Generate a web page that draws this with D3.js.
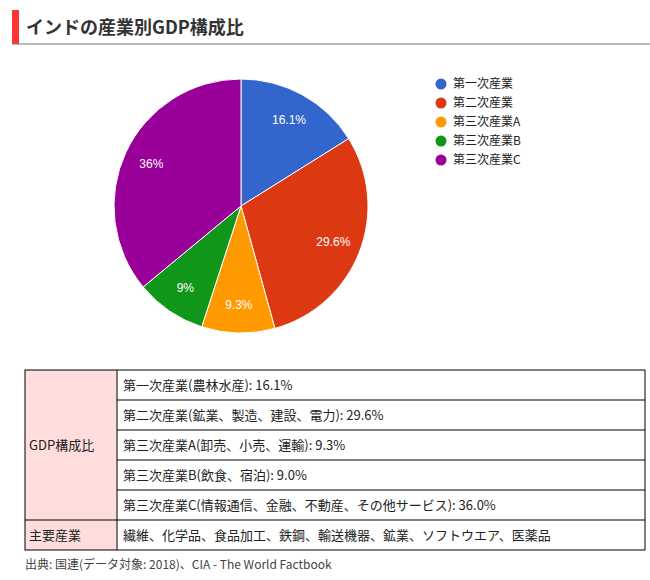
<!DOCTYPE html>
<html><head><meta charset="utf-8">
<script src="https://cdn.jsdelivr.net/npm/d3@7"></script>
<style>
body{margin:0;background:#fff;font-family:"Noto Sans CJK JP","Noto Sans",sans-serif;}
</style></head>
<body><div id="chart"></div>
<script>
// data
let sectors = ["第一次産業", "第二次産業", "第三次産業A", "第三次産業B", "第三次産業C"];
let shares = [16.1, 29.6, 9.3, 9.0, 36.0];
let sliceLabels = ["16.1%", "29.6%", "9.3%", "9%", "36%"];
let colors = ["#3366cc", "#dc3912", "#ff9900", "#109618", "#990099"];
let tableRows = [
	"第一次産業(農林水産): 16.1%",
	"第二次産業(鉱業、製造、建設、電力): 29.6%",
	"第三次産業A(卸売、小売、運輸): 9.3%",
	"第三次産業B(飲食、宿泊): 9.0%",
	"第三次産業C(情報通信、金融、不動産、その他サービス): 36.0%"
];
let mainIndustries = "繊維、化学品、食品加工、鉄鋼、輸送機器、鉱業、ソフトウエア、医薬品";
let source = "出典: 国連(データ対象: 2018)、CIA - The World Factbook";

let svg = d3.select("#chart").append("svg").attr("width", 650).attr("height", 580);

// title
svg.append("rect").attr("x", 12).attr("y", 10).attr("width", 7).attr("height", 34).attr("fill", "#f33");
svg.append("line").attr("x1", 12).attr("x2", 650).attr("y1", 44).attr("y2", 44).attr("stroke", "#777").attr("stroke-width", 1);
svg.append("text").attr("x", 26).attr("y", 34).attr("font-size", 18).attr("font-weight", "bold")
	.attr("fill", "#333").text("インドの産業別GDP構成比");

// pie
let R = 127;
let g = svg.append("g").attr("transform", "translate(241,206)");
let pie = d3.pie().sort(null)(shares);
let arc = d3.arc().innerRadius(0).outerRadius(R);
let labelArc = d3.arc().innerRadius(R * 0.78).outerRadius(R * 0.78);
g.selectAll("path").data(pie).enter().append("path")
	.attr("d", arc).attr("fill", (d, i) => colors[i]).attr("stroke", "#fff").attr("stroke-width", 1);
g.selectAll("text").data(pie).enter().append("text")
	.attr("transform", d => "translate(" + labelArc.centroid(d) + ")")
	.attr("text-anchor", "middle").attr("dy", "0.35em")
	.attr("font-family", "Arial, 'Liberation Sans', sans-serif")
	.attr("font-size", 12).attr("fill", "#fff").text((d, i) => sliceLabels[i]);

// legend
let leg = svg.append("g").selectAll("g").data(sectors).enter().append("g")
	.attr("transform", (d, i) => "translate(441," + (84 + i * 19) + ")");
leg.append("circle").attr("r", 5.5).attr("fill", (d, i) => colors[i]);
leg.append("text").attr("x", 12).attr("dy", "0.35em").attr("font-size", 12).attr("fill", "#222").text(d => d);

// table
let tx = 25, tw = 620, c1 = 92, rh = 30, ty = 370;
let tg = svg.append("g");
tg.append("rect").attr("x", tx).attr("y", ty).attr("width", c1).attr("height", rh * 6).attr("fill", "#fdd");
tableRows.concat([mainIndustries]).forEach(function (t, i) {
	tg.append("text").attr("x", tx + c1 + 6).attr("y", ty + rh * i + rh / 2).attr("dy", "0.35em")
		.attr("font-size", 13).attr("fill", "#222").text(t);
});
tg.append("text").attr("x", tx + 4).attr("y", ty + rh * 2.5).attr("dy", "0.35em").attr("font-size", 13).attr("fill", "#222").text("GDP構成比");
tg.append("text").attr("x", tx + 4).attr("y", ty + rh * 5.5).attr("dy", "0.35em").attr("font-size", 13).attr("fill", "#222").text("主要産業");
tg.append("rect").attr("x", tx).attr("y", ty).attr("width", tw).attr("height", rh * 6).attr("fill", "none").attr("stroke", "#000");
tg.append("line").attr("x1", tx + c1).attr("x2", tx + c1).attr("y1", ty).attr("y2", ty + rh * 6).attr("stroke", "#000");
d3.range(1, 6).forEach(function (i) {
	tg.append("line").attr("x1", i === 5 ? tx : tx + c1).attr("x2", tx + tw)
		.attr("y1", ty + rh * i).attr("y2", ty + rh * i).attr("stroke", "#000");
});
svg.append("text").attr("x", 25).attr("y", 569).attr("font-size", 12).attr("fill", "#444").text(source);
</script></body></html>
